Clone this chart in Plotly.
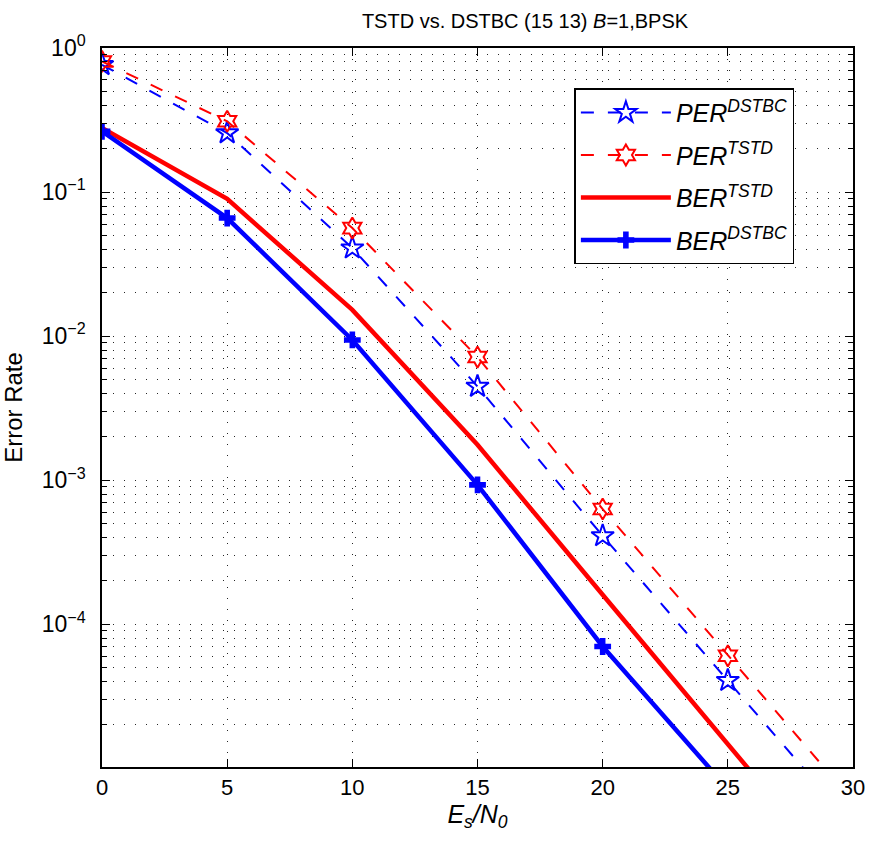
import plotly.graph_objects as go
import numpy as np

# ---- data ----
snr = [0, 5, 10, 15, 20, 25, 30]
snr_ber_dstbc = [0, 5, 10, 15, 20, 25]
per_dstbc = [0.765, 0.257, 0.0408, 0.00447, 0.00041, 4.06e-5, 4.0e-6]
per_tstd = [0.807, 0.31, 0.0562, 0.00715, 0.00063, 6.03e-5, 5.9e-6]
ber_tstd = [0.279, 0.0897, 0.0152, 0.00176, 0.00016, 1.45e-5, 1.35e-6]
ber_dstbc = [0.264, 0.066, 0.0094, 0.000927, 7.0e-5, 7.2e-6]

x_ticks = [0, 5, 10, 15, 20, 25, 30]
y_tick_exps = [-4, -3, -2, -1, 0]

FONT = "Liberation Sans, Arial, Helvetica, sans-serif"
BLUE = "#0000ff"
RED = "#ff0000"

fig = go.Figure()
fig.add_trace(go.Scatter(
    x=snr, y=per_dstbc, mode="lines+markers", legendgroup="g1",
    name="<i>PER</i><sup><i>DSTBC</i></sup>",
    line=dict(color=BLUE, width=2, dash="13px,14px"),
    marker=dict(symbol="star-open", size=17, color=BLUE, line=dict(width=2, color=BLUE)),
))
fig.add_trace(go.Scatter(
    x=snr, y=per_tstd, mode="lines+markers", legendgroup="g2",
    name="<i>PER</i><sup><i>TSTD</i></sup>",
    line=dict(color=RED, width=2, dash="13px,14px"),
    marker=dict(symbol="hexagram-open", size=16, color=RED, line=dict(width=2, color=RED)),
))
fig.add_trace(go.Scatter(
    x=snr, y=ber_tstd, mode="lines", legendgroup="g3",
    name="<i>BER</i><sup><i>TSTD</i></sup>",
    line=dict(color=RED, width=4.5),
))
fig.add_trace(go.Scatter(
    x=snr_ber_dstbc, y=ber_dstbc, mode="lines+markers", legendgroup="g4",
    name="<i>BER</i><sup><i>DSTBC</i></sup>",
    line=dict(color=BLUE, width=4.5),
    marker=dict(symbol="cross", size=14, color=BLUE),
))

minor_vals = [m * 10.0 ** e for e in range(-5, 0) for m in range(2, 10)]

GRID = dict(griddash="1px,10px", gridcolor="rgba(0,0,0,0.85)", gridwidth=1)

fig.update_xaxes(
    range=[0, 30], tickmode="array", tickvals=x_ticks,
    ticks="inside", ticklen=8, tickwidth=1, tickcolor="black",
    showline=True, linecolor="black", linewidth=1.5, mirror="allticks",
    showgrid=True, zeroline=False, **GRID,
    tickfont=dict(family=FONT, size=22, color="black"),
    title=dict(text="<i>E</i><sub><i>s</i></sub><i>/N</i><sub><i>0</i></sub>",
               font=dict(family=FONT, size=25, color="black"), standoff=4),
)
fig.update_yaxes(
    type="log", range=[np.log10(1.02e-5), 0],
    tickmode="array", tickvals=[10.0 ** e for e in y_tick_exps],
    ticktext=["10<sup>%s</sup>" % (str(e).replace("-", "\u2212")) for e in y_tick_exps],
    ticks="inside", ticklen=8, tickwidth=1, tickcolor="black",
    showline=True, linecolor="black", linewidth=1.5, mirror="allticks",
    showgrid=True, zeroline=False, **GRID,
    minor=dict(tickmode="array", tickvals=minor_vals, ticks="inside", ticklen=5,
               tickcolor="black", showgrid=True, **GRID),
    tickfont=dict(family=FONT, size=23, color="black"),
    ticklabelstandoff=10,
    title=dict(text="Error Rate", font=dict(family=FONT, size=24, color="black"), standoff=12),
)

fig.update_layout(
    width=877, height=847,
    margin=dict(l=102, r=20, t=48, b=80),
    paper_bgcolor="white", plot_bgcolor="white",
    font=dict(family=FONT, color="black"),
    title=dict(text="TSTD vs. DSTBC (15 13) <i>B</i>=1,BPSK",
               x=525 / 877, xref="container", xanchor="center",
               y=1 - 21 / 847, yref="container", yanchor="middle",
               font=dict(family=FONT, size=20, color="black")),
    showlegend=True,
    legend=dict(x=0.629, y=0.944, xanchor="left", yanchor="top",
                bgcolor="white", bordercolor="black", borderwidth=1.5,
                font=dict(family=FONT, size=25, color="black"),
                itemwidth=90, traceorder="grouped", tracegroupgap=7),
)

fig.write_html("out.html")
